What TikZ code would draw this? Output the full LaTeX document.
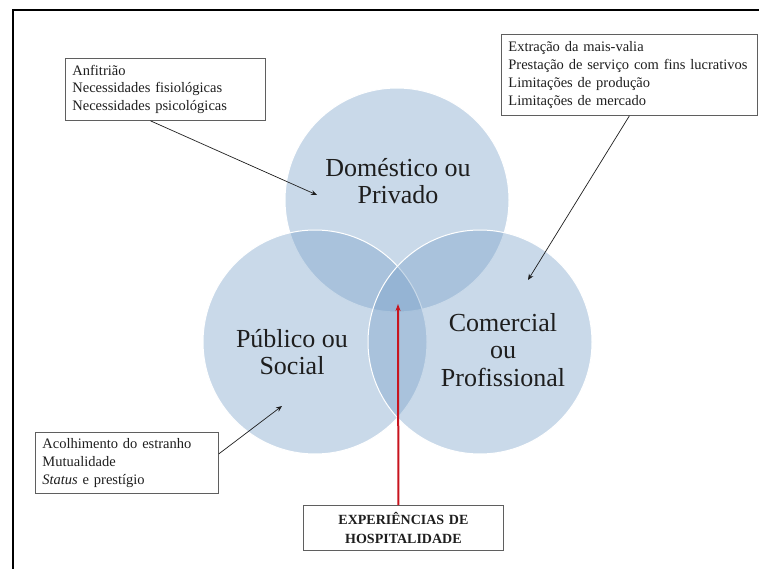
\documentclass[tikz,border=0pt]{standalone}
\usepackage{fontspec}
\setmainfont{Liberation Serif}
\usetikzlibrary{positioning, arrows.meta, calc}

\definecolor{vennblue}{RGB}{120,160,200}
\definecolor{boxgray}{RGB}{95,95,95}
\definecolor{inkdark}{RGB}{30,30,30}
\definecolor{arrowred}{RGB}{200,20,30}

\begin{document}
\begin{tikzpicture}[
        x=1pt, y=-1pt,
        venn/.style={circle, minimum size=224pt, inner sep=0pt, draw=white, line width=1pt, fill=vennblue, fill opacity=0.4},
        circtext/.style={align=center, text=inkdark, font=\fontsize{26}{27.5}\selectfont},
        notebox/.style={draw=boxgray, line width=0.8pt, fill=white, anchor=north west, align=left, text=inkdark, inner xsep=7pt, font=\fontsize{14.5}{17.8}\selectfont},
        arrow/.style={-{Stealth[length=6pt, width=5pt]}, line width=0.7pt, draw=inkdark},
        redarrow/.style={-{Stealth[length=7pt, width=5pt]}, line width=2pt, draw=arrowred}
      ]

    \useasboundingbox (0,0) rectangle (759,569);
    \clip (0,0) rectangle (759,569);

    % page frame, only its top and left sides show
    \draw[line width=1.5pt] (13,10) rectangle (790,600);

    % the three spheres
    \node[venn] (dom) at (397,200) {};
    \node[venn] (pub) at (315,342) {};
    \node[venn] (com) at (480,342) {};

    \node[circtext] (domlab) at (398,181) {Doméstico ou\\Privado};
    \node[circtext] (publab) at (292,352) {Público ou\\Social};
    \node[circtext] (comlab) at (503,350) {Comercial\\ou\\Profissional};

    % where the arrows point
    \coordinate (domtip) at (317,195);
    \coordinate (comtip) at (528,280);
    \coordinate (pubtip) at (282,406);
    \coordinate (meet) at (398,304);

    % note boxes
    \node[notebox, text width=186pt, minimum height=62pt] (host) at (65,58)
      {Anfitrião\\Necessidades fisiológicas\\Necessidades psicológicas};
    \node[notebox, text width=242pt, minimum height=81pt] (trade) at (501,34)
      {Extração da mais-valia\\Prestação de serviço com fins lucrativos\\Limitações de produção\\Limitações de mercado};
    \node[notebox, text width=169pt, minimum height=61pt] (welcome) at (35,432)
      {Acolhimento do estranho\\Mutualidade\\\textit{Status} e prestígio};
    \node[notebox, align=center, text width=186pt, minimum height=45pt, font=\fontsize{14}{19}\selectfont\bfseries] (exp) at (303,505)
      {EXPERIÊNCIAS DE\\HOSPITALIDADE};

    \draw[arrow] ([xshift=-15pt]host.south) -- (domtip);
    \draw[arrow] (trade.south) -- (comtip);
    \draw[arrow] ([yshift=9pt]welcome.east) -- (pubtip);
    \draw[redarrow] ([xshift=-5pt]exp.north) -- (meet);

\end{tikzpicture}
\end{document}
